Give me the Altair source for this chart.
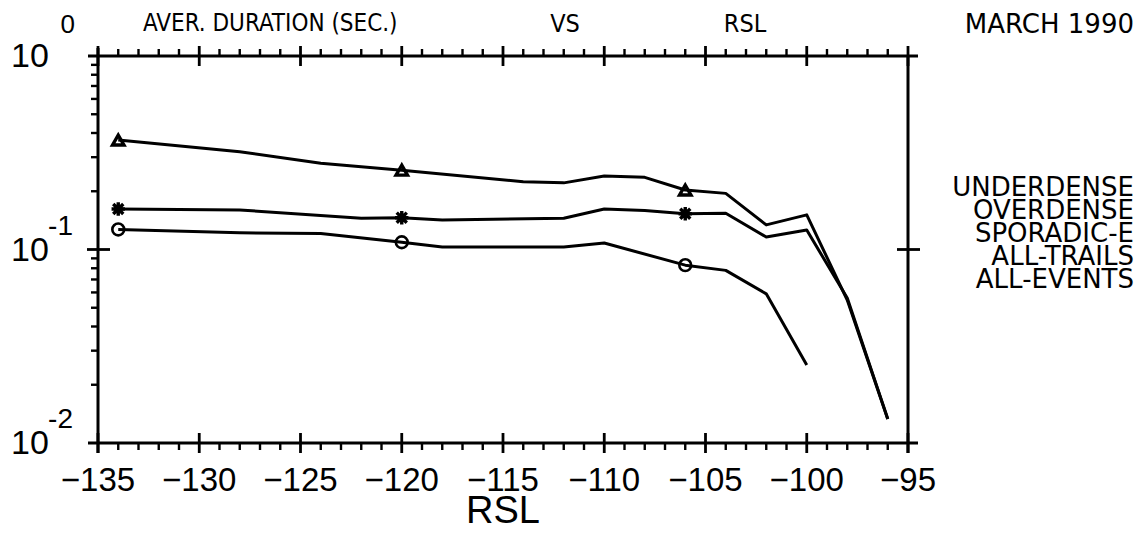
import altair as alt
import pandas as pd

# ---------------- data ----------------
rsl_tri = [-134, -128, -124, -120, -114, -112, -110, -108, -106, -104, -102, -100, -98, -96]
dur_tri = [0.368, 0.320, 0.279, 0.257, 0.224, 0.221, 0.240, 0.236, 0.203, 0.195, 0.134, 0.151, 0.0548, 0.0133]

rsl_star = [-134, -128, -122, -120, -118, -112, -110, -108, -106, -104, -102, -100, -98, -96]
dur_star = [0.162, 0.160, 0.145, 0.146, 0.142, 0.145, 0.162, 0.159, 0.153, 0.154, 0.116, 0.126, 0.0562, 0.0133]

rsl_circ = [-134, -128, -124, -120, -118, -112, -110, -106, -104, -102, -100]
dur_circ = [0.127, 0.122, 0.121, 0.109, 0.103, 0.103, 0.108, 0.083, 0.078, 0.059, 0.0253]

marker_rsl = [-134, -120, -106]

x_major = [-135, -130, -125, -120, -115, -110, -105, -100, -95]
x_major_labels = ["\u2212135", "\u2212130", "\u2212125", "\u2212120", "\u2212115",
                  "\u2212110", "\u2212105", "\u2212100", "\u221295"]
x_minor = [v for v in range(-134, -95) if v % 5 != 0]

y_decades = [1.0, 0.1, 0.01]
y_exp_labels = ["0", "-1", "-2"]
y_minor = [m * d for d in (0.01, 0.1) for m in range(2, 10)]

legend_labels = ["UNDERDENSE", "OVERDENSE", "SPORADIC-E", "ALL-TRAILS", "ALL-EVENTS"]
header_left = "AVER. DURATION (SEC.)"
header_vs = "VS"
header_rsl = "RSL"
header_date = "MARCH 1990"
x_title = "RSL"

# ---------------- layout ----------------
W, H = 810, 387
FONTC = "DejaVu Sans Condensed, Liberation Sans Narrow, sans-serif"
FONT = "DejaVu Sans, Liberation Sans, sans-serif"
FONT2 = "Liberation Sans, DejaVu Sans, sans-serif"

xs = alt.Scale(domain=[-135, -95], nice=False, zero=False)
ys = alt.Scale(type="log", domain=[0.01, 1], nice=False)

series = pd.concat([
    pd.DataFrame({"rsl": rsl_tri, "dur": dur_tri, "series": "triangle"}),
    pd.DataFrame({"rsl": rsl_star, "dur": dur_star, "series": "star"}),
    pd.DataFrame({"rsl": rsl_circ, "dur": dur_circ, "series": "circle"}),
], ignore_index=True)

X = alt.X("rsl:Q", scale=xs, axis=None)
Y = alt.Y("dur:Q", scale=ys, axis=None)

lines = alt.Chart(series).mark_line(color="black", strokeWidth=3, strokeJoin="round").encode(
    x=X, y=Y, detail="series:N"
)

def marker(name, **kw):
    return alt.Chart(series).transform_filter(
        alt.FieldEqualPredicate(field="series", equal=name)
    ).transform_filter(
        alt.FieldOneOfPredicate(field="rsl", oneOf=marker_rsl)
    ).mark_point(color="black", opacity=1, **kw).encode(x=X, y=Y)

m_tri = marker("triangle", shape="triangle-up", size=130, filled=False, strokeWidth=3.4)
m_star = marker("star", shape="M-1,0H1M0,-1V1M-0.75,-0.75L0.75,0.75M-0.75,0.75L0.75,-0.75",
                size=180, filled=False, strokeWidth=3.4)
m_circ = marker("circle", shape="circle", size=140, filled=False, strokeWidth=2.6)

one = alt.Data(values=[{"k": 0}])

def frame_rule(**enc):
    return alt.Chart(one).mark_rule(color="black", strokeWidth=3).encode(**enc)

frame = [
    frame_rule(x=alt.value(-10), x2=alt.value(W + 10), y=alt.value(0)),
    frame_rule(x=alt.value(-10), x2=alt.value(W + 10), y=alt.value(H)),
    frame_rule(y=alt.value(-8), y2=alt.value(H + 10), x=alt.value(0)),
    frame_rule(y=alt.value(0), y2=alt.value(H + 10), x=alt.value(W)),
]

xmaj_df = pd.DataFrame({"v": x_major, "lab": x_major_labels})
xmin_df = pd.DataFrame({"v": x_minor})
ymin_df = pd.DataFrame({"v": y_minor})
ydec_df = pd.DataFrame({"v": y_decades, "lab": y_exp_labels})

XT = alt.X("v:Q", scale=xs, axis=None)
YT = alt.Y("v:Q", scale=ys, axis=None)

ticks = [
    alt.Chart(xmin_df).mark_rule(color="black", strokeWidth=2.4).encode(x=XT, y=alt.value(H), y2=alt.value(H + 7)),
    alt.Chart(xmin_df).mark_rule(color="black", strokeWidth=2.4).encode(x=XT, y=alt.value(-7), y2=alt.value(0)),
    alt.Chart(xmaj_df).mark_rule(color="black", strokeWidth=2.8).encode(x=XT, y=alt.value(H - 10), y2=alt.value(H + 10)),
    alt.Chart(xmaj_df).mark_rule(color="black", strokeWidth=2.8).encode(x=XT, y=alt.value(-10), y2=alt.value(10)),
    alt.Chart(ymin_df).mark_rule(color="black", strokeWidth=2.4).encode(y=YT, x=alt.value(-7), x2=alt.value(0)),
    alt.Chart(ydec_df).transform_filter(alt.datum.v == 0.1).mark_rule(color="black", strokeWidth=2.8).encode(
        y=YT, x=alt.value(-11), x2=alt.value(12)),
    alt.Chart(ydec_df).transform_filter(alt.datum.v == 0.1).mark_rule(color="black", strokeWidth=2.8).encode(
        y=YT, x=alt.value(W - 11), x2=alt.value(W + 12)),
]

xlabels = alt.Chart(xmaj_df).mark_text(font=FONT2, fontSize=33, align="center", baseline="middle",
                                       color="black").encode(
    x=XT, y=alt.value(H + 38), text="lab:N")

ten = alt.Chart(ydec_df).mark_text(font=FONT2, fontSize=34, align="left", baseline="middle", dy=1,
                                   color="black").encode(
    y=YT, x=alt.value(-87), text=alt.value("10"))
sup = alt.Chart(ydec_df).transform_filter(alt.datum.v < 0.5).mark_text(
    font=FONT2, fontSize=28, align="right", baseline="middle", dy=-23, color="black").encode(
    y=YT, x=alt.value(-25), text="lab:N")
sup0 = alt.Chart(ydec_df).transform_filter(alt.datum.v > 0.5).mark_text(
    font=FONT2, fontSize=26, align="right", baseline="top", dy=-44, color="black").encode(
    y=YT, x=alt.value(-23), text="lab:N")

def label(txt, x, y, size=27, align="left", font=FONT, baseline="top"):
    return alt.Chart(one).mark_text(text=txt, font=font, fontSize=size, align=align,
                                    baseline=baseline, color="black").encode(
        x=alt.value(x), y=alt.value(y))

headers = [
    label(header_left, 45, -44, size=24, font=FONTC),
    label(header_vs, 467, -44, size=25, align="center", font=FONTC),
    label(header_rsl, 647, -44, size=25, align="center", font=FONTC),
    label(header_date, 1036, -44, size=26, align="right", font=FONT),
    label(x_title, W / 2, H + 69, size=38, align="center", font=FONT2, baseline="middle"),
]

legend = alt.Chart(one).mark_text(text=legend_labels, font=FONT, fontSize=26,
                                  align="right", baseline="middle", lineHeight=23, color="black").encode(
    x=alt.value(1036), y=alt.value(132))

chart = alt.layer(
    lines, m_tri, m_star, m_circ, *frame, *ticks, xlabels, ten, sup, sup0, *headers, legend
).properties(
    width=W, height=H,
    padding={"left": 90, "top": 48, "right": 228, "bottom": 86},
    autosize=alt.AutoSizeParams(type="none"),
).configure_view(stroke=None)

chart.save("out.html", embed_options={"renderer": "svg", "actions": False})
